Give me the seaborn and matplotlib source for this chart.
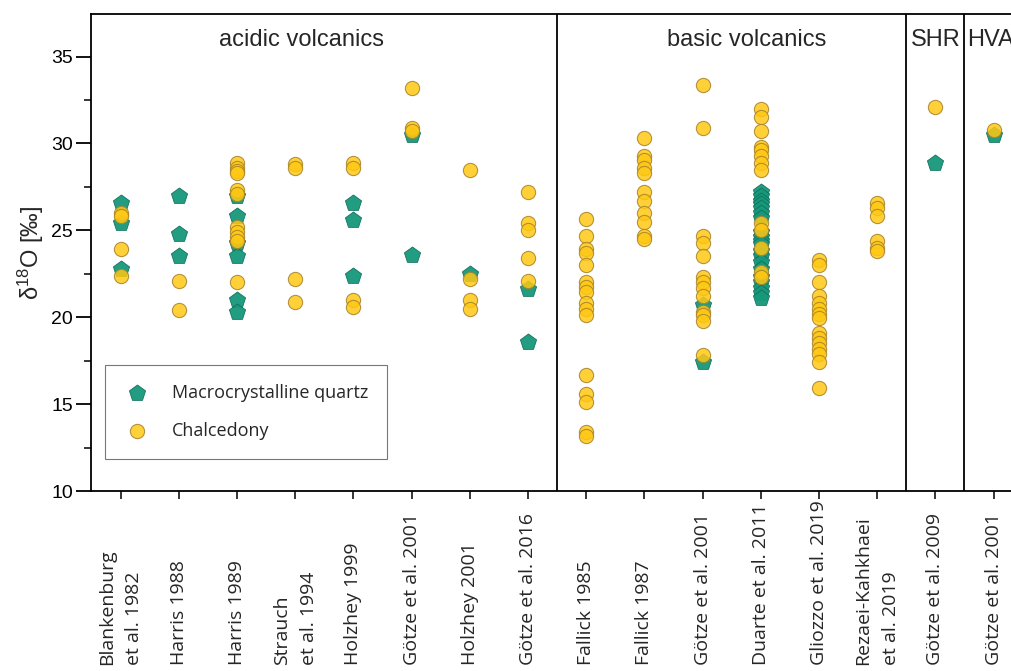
import matplotlib
matplotlib.use("Agg")
import matplotlib.pyplot as plt
import pandas as pd
import seaborn as sns
from matplotlib.ticker import MultipleLocator

# ---------------- data ----------------
studies = [
    "Blankenburg\net al. 1982", "Harris 1988", "Harris 1989", "Strauch\net al. 1994",
    "Holzhey 1999", "Götze et al. 2001", "Holzhey 2001", "Götze et al. 2016",
    "Fallick 1985", "Fallick 1987", "Götze et al. 2001", "Duarte et al. 2011",
    "Gliozzo et al. 2019", "Rezaei-Kahkhaei\net al. 2019", "Götze et al. 2009",
    "Götze et al. 2001",
]

quartz = [
    [26.6, 25.4, 22.8],
    [27.0, 24.8, 23.5],
    [27.0, 25.8, 24.3, 23.5, 21.0, 20.3],
    [],
    [26.6, 25.6, 22.4],
    [30.5, 23.6],
    [22.5],
    [21.6, 18.6],
    [],
    [],
    [20.7, 17.4],
    [27.2, 27.0, 26.7, 26.5, 26.3, 26.0, 25.7, 24.9, 24.6, 24.4, 24.2, 23.8,
     23.5, 23.2, 22.8, 22.3, 22.0, 21.7, 21.4, 21.1],
    [],
    [],
    [28.9],
    [30.5],
]

chalcedony = [
    [26.0, 25.8, 23.9, 22.4],
    [22.1, 20.4],
    [28.9, 28.6, 28.4, 28.3, 27.3, 27.1, 25.2, 24.9, 24.6, 24.4, 22.0],
    [28.8, 28.6, 22.2, 20.9],
    [28.9, 28.6, 21.0, 20.6],
    [33.2, 30.9, 30.7],
    [28.5, 22.2, 21.0, 20.5],
    [27.2, 25.4, 25.0, 23.4, 22.1],
    [25.65, 24.7, 23.9, 23.7, 23.0, 22.0, 21.75, 21.45, 20.8, 20.5, 20.1,
     16.7, 15.6, 15.1, 13.4, 13.15],
    [30.3, 29.3, 29.05, 28.6, 28.3, 27.2, 26.7, 26.0, 25.5, 24.7, 24.5],
    [33.35, 30.9, 24.7, 24.3, 23.55, 22.3, 22.0, 21.7, 21.2, 20.3, 20.1,
     19.8, 17.8],
    [32.0, 31.5, 30.7, 29.8, 29.6, 29.3, 28.9, 28.5, 25.4, 25.0, 24.0, 22.6, 22.3],
    [23.3, 23.0, 22.0, 21.2, 20.8, 20.5, 20.2, 19.95, 19.1, 18.8, 18.5, 18.2,
     17.9, 17.4, 15.9],
    [26.6, 26.3, 25.8, 24.4, 24.0, 23.8],
    [32.1],
    [30.8],
]

groups = ["acidic volcanics", "basic volcanics", "SHR", "HVA"]
group_bounds = [7.5, 13.5, 14.5]

# ---------------- build long table ----------------
rows = []
for i, vals in enumerate(quartz):
    for v in vals:
        rows.append({"pos": i, "d18O": v, "type": "Macrocrystalline quartz"})
for i, vals in enumerate(chalcedony):
    for v in vals:
        rows.append({"pos": i, "d18O": v, "type": "Chalcedony"})
df = pd.DataFrame(rows)

sns.set_theme(style="ticks")
plt.rcParams["font.family"] = ["Liberation Sans", "DejaVu Sans"]
plt.rcParams["mathtext.fontset"] = "custom"
plt.rcParams["mathtext.rm"] = "Liberation Sans"
plt.rcParams["mathtext.it"] = "Liberation Sans:italic"

fig = plt.figure(figsize=(10.11, 6.71), dpi=100)
ax = fig.add_axes([91 / 1011, 1 - 491 / 671, 920 / 1011, 477 / 671])

q = df[df["type"] == "Macrocrystalline quartz"]
c = df[df["type"] == "Chalcedony"]
sns.scatterplot(data=q, x="pos", y="d18O", marker="p", s=150, color="#17987b",
                edgecolor="#0f6f59", linewidth=0.6, alpha=0.95,
                label="Macrocrystalline quartz", ax=ax, zorder=3)
sns.scatterplot(data=c, x="pos", y="d18O", marker="o", s=105, color="#ffc814",
                edgecolor="#a8842a", linewidth=0.8, alpha=0.85,
                label="Chalcedony", ax=ax, zorder=4)

ax.set_xlim(-0.51, 15.30)
ax.set_ylim(10, 37.45)

for b in group_bounds:
    ax.axvline(b, color="black", lw=1.3, zorder=2)

# group titles
ax.text(3.1, 35.95, groups[0], ha="center", va="center", fontsize=17)
ax.text(10.75, 35.95, groups[1], ha="center", va="center", fontsize=17)
ax.text(14.0, 35.95, groups[2], ha="center", va="center", fontsize=17)
ax.text(14.55, 35.95, groups[3], ha="left", va="center", fontsize=17)

# axes styling
for side in ["left", "bottom", "top"]:
    ax.spines[side].set_linewidth(1.3)
    ax.spines[side].set_color("black")
ax.spines["right"].set_visible(False)

ax.yaxis.set_major_locator(MultipleLocator(5))
ax.yaxis.set_minor_locator(MultipleLocator(2.5))
ax.tick_params(axis="y", which="major", length=11, width=1.3, direction="out",
               labelsize=14, pad=2, colors="black")
ax.tick_params(axis="y", which="minor", length=5, width=1.3, direction="out")
ax.tick_params(axis="x", which="major", length=6, width=1.3, direction="out",
               pad=119)

ax.set_xticks(range(len(studies)))
ax.set_xticklabels(studies, rotation=90, va="bottom", ha="center",
                   multialignment="left", fontsize=14, linespacing=1.65,
                   family=["Open Sans", "DejaVu Sans"])

ax.set_xlabel("")
ax.set_ylabel("δ$^{18}$O [‰]", fontsize=17, labelpad=4)

leg = ax.legend(loc="lower left", bbox_to_anchor=(0.015, 0.067), frameon=True,
                fancybox=False, edgecolor="#555555", borderaxespad=0,
                borderpad=1.05, handlelength=1.45, handletextpad=1.2,
                labelspacing=1.1,
                prop={"family": "Open Sans", "size": 13})
leg.get_frame().set_linewidth(0.8)

fig.savefig("out.png", dpi=100)
